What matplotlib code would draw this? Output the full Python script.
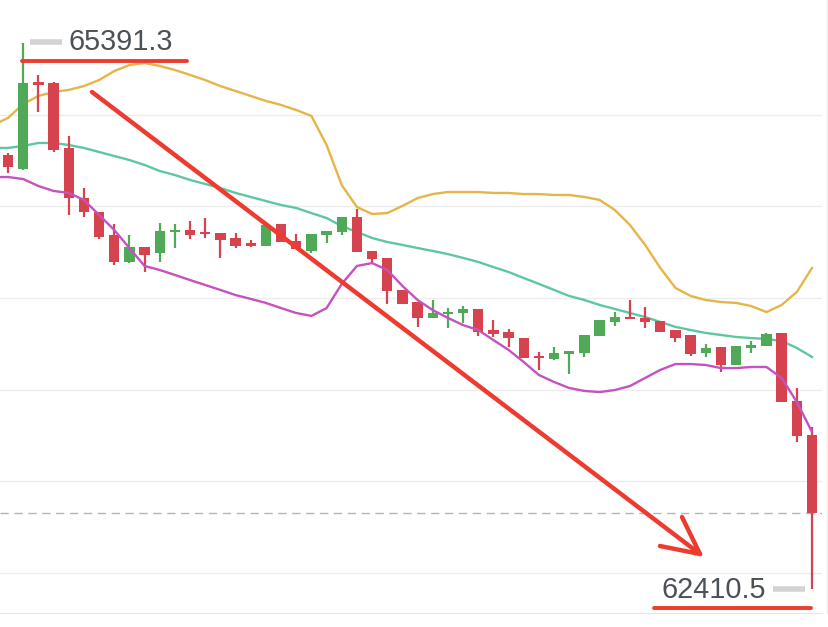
import matplotlib
matplotlib.use("Agg")
import matplotlib.pyplot as plt
from matplotlib.lines import Line2D
import numpy as np

# ---- data ----
opens = [64781, 64705, 65180, 65175, 64820, 64547, 64470, 64344, 64197, 64279,
         64246, 64361, 64372, 64361, 64355, 64328, 64301, 64284, 64404, 64311,
         64257, 64344, 64361, 64443, 64257, 64219, 64044, 63978, 63891, 63913,
         63918, 63940, 63825, 63814, 63781, 63683, 63667, 63694, 63699, 63792,
         63869, 63896, 63891, 63874, 63825, 63798, 63699, 63732, 63634, 63727,
         63738, 63809, 63437, 63251]
closes = [64716, 65175, 65164, 64809, 64547, 64470, 64333, 64197, 64279, 64235,
          64366, 64372, 64344, 64350, 64317, 64284, 64284, 64399, 64306, 64268,
          64350, 64366, 64443, 64251, 64213, 64038, 63967, 63891, 63918, 63924,
          63940, 63814, 63803, 63781, 63672, 63672, 63699, 63710, 63798, 63880,
          63896, 63885, 63869, 63814, 63781, 63694, 63727, 63634, 63738, 63743,
          63803, 63432, 63246, 62825]
highs = [64792, 65391.3, 65219, 65180, 64885, 64601, 64470, 64404, 64344, 64279,
         64410, 64404, 64421, 64437, 64355, 64355, 64317, 64399, 64404, 64350,
         64350, 64366, 64443, 64486, 64257, 64219, 64044, 63978, 63989, 63945,
         63956, 63940, 63880, 63831, 63781, 63705, 63732, 63710, 63798, 63880,
         63924, 63989, 63951, 63874, 63825, 63798, 63749, 63732, 63738, 63765,
         63809, 63809, 63508, 63295]
lows = [64683, 64700, 65016, 64800, 64454, 64443, 64322, 64180, 64190, 64142,
        64197, 64273, 64322, 64328, 64219, 64273, 64279, 64284, 64306, 64268,
        64246, 64301, 64344, 64251, 64191, 63967, 63967, 63842, 63891, 63836,
        63863, 63792, 63787, 63732, 63672, 63607, 63661, 63585, 63678, 63792,
        63847, 63885, 63836, 63814, 63760, 63683, 63678, 63596, 63634, 63699,
        63738, 63432, 63213, 62410.5]

# Bollinger bands, first value is just left of the first candle
boll_upper = [64945, 64984, 65060, 65104, 65126, 65137, 65158, 65191, 65240, 65273,
              65284, 65268, 65246, 65219, 65191, 65158, 65131, 65104, 65077, 65055,
              65027, 64995, 64836, 64617, 64497, 64459, 64464, 64503, 64546, 64568,
              64579, 64579, 64579, 64574, 64574, 64568, 64568, 64563, 64563, 64552,
              64536, 64481, 64399, 64290, 64164, 64055, 64011, 63989, 63978, 63973,
              63956, 63923, 63962, 64033, 64164]
boll_mid = [64820, 64820, 64831, 64847, 64847, 64836, 64820, 64798, 64776, 64754,
            64727, 64694, 64672, 64645, 64623, 64601, 64574, 64552, 64530, 64508,
            64492, 64464, 64437, 64393, 64361, 64328, 64306, 64290, 64273, 64257,
            64240, 64219, 64197, 64169, 64142, 64109, 64077, 64044, 64011, 63989,
            63962, 63940, 63918, 63896, 63869, 63842, 63825, 63809, 63798, 63787,
            63781, 63776, 63765, 63727, 63678]
boll_lower = [64661, 64661, 64650, 64612, 64585, 64574, 64536, 64454, 64372, 64273,
              64175, 64153, 64126, 64098, 64071, 64044, 64016, 63995, 63973, 63945,
              63918, 63902, 63945, 64077, 64175, 64191, 64153, 64066, 63989, 63934,
              63891, 63852, 63825, 63770, 63716, 63650, 63579, 63541, 63508, 63492,
              63486, 63497, 63519, 63563, 63607, 63639, 63639, 63634, 63617, 63617,
              63623, 63623, 63563, 63432, 63268]

high_label = "65391.3"
low_label = "62410.5"
last_price = 62825
grid_levels = [62500, 63000, 63500, 64000, 64500, 65000]

# ---- styling ----
UP = "#4fa957"
DOWN = "#d6434f"
ANN = "#ee3b30"
W, H = 829, 627

fig = plt.figure(figsize=(W / 100, H / 100), dpi=100)
fig.patch.set_facecolor("white")
ax = fig.add_axes([0, 1 - 613 / H, 822 / W, 613 / H])
ax.set_xlim(-0.53, 53.66)
ax.set_ylim(62278.7, 65628.4)
for s in ["top", "left", "right"]:
    ax.spines[s].set_visible(False)
ax.spines["bottom"].set_color("#e6e6e6")
ax.set_xticks([])
ax.set_yticks([])

for g in grid_levels:
    ax.axhline(g, color="#ececec", lw=1, zorder=0)

ax.axhline(last_price, color="#b5b5b5", lw=1, ls=(0, (6, 4)), zorder=1)

n = len(opens)
xs = np.arange(n)
bx = np.arange(-1, n)
ax.plot(bx, boll_upper, color="#e6b548", lw=1.7, zorder=2)
ax.plot(bx, boll_mid, color="#5ec7a2", lw=1.7, zorder=2)
ax.plot(bx, boll_lower, color="#c452bf", lw=1.7, zorder=4)

o = np.array(opens, float)
c = np.array(closes, float)
hi = np.array(highs, float)
lo = np.array(lows, float)
cols = [UP if cc >= oo else DOWN for oo, cc in zip(o, c)]
bottoms = np.minimum(o, c)
heights = np.maximum(np.abs(c - o), 10)
ax.vlines(xs, lo, hi, colors=cols, lw=1.6, zorder=3)
ax.bar(xs, heights, bottom=bottoms, width=0.68, color=cols, zorder=3, linewidth=0)

# ---- annotations (figure pixel coordinates, y from top) ----
def fx(px):
    return px / W

def fy(py):
    return 1 - py / H

def fline(x0, y0, x1, y1, **kw):
    fig.add_artist(Line2D([fx(x0), fx(x1)], [fy(y0), fy(y1)], transform=fig.transFigure, **kw))

# high label
fline(30, 42, 62, 42, color="#d3d3d3", lw=4, solid_capstyle="butt")
fig.text(fx(69), fy(42), high_label, fontsize=20.8, color="#4c5057",
         family="Liberation Sans", va="center", ha="left")
fline(22, 61, 187, 61, color=ANN, lw=2.8, solid_capstyle="round")

# low label
fline(773, 589, 805, 589, color="#d3d3d3", lw=4, solid_capstyle="butt")
fig.text(fx(766), fy(590), low_label, fontsize=20.8, color="#4c5057",
         family="Liberation Sans", va="center", ha="right")
fline(654, 608, 811, 608, color=ANN, lw=2.8, solid_capstyle="round")

# big arrow
fline(92, 92, 700, 554, color=ANN, lw=3.2, solid_capstyle="round")
fline(700, 554, 682, 517, color=ANN, lw=3.2, solid_capstyle="round")
fline(700, 554, 660, 546, color=ANN, lw=3.2, solid_capstyle="round")

# faint right border of the price axis
fline(827, 0, 827, 613, color="#ededed", lw=1)

fig.savefig("out.png", dpi=100, facecolor="white")
